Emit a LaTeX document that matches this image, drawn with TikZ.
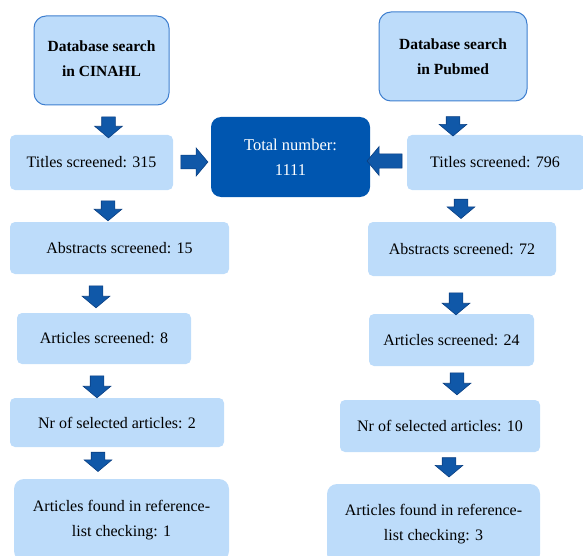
\documentclass[tikz,border=0pt]{standalone}
\usepackage{fontspec}
\setmainfont{Liberation Serif}
\usetikzlibrary{shapes.arrows}
\definecolor{lightbox}{HTML}{BDDCFA}
\definecolor{boxedge}{HTML}{3F7FCF}
\definecolor{darkbox}{HTML}{0056B0}
\definecolor{arrowfill}{HTML}{1058A8}
\definecolor{arrowedge}{HTML}{0A3F82}
\tikzset{
  stagebox/.style={fill=lightbox, rounded corners=5pt, align=center, inner sep=0pt,
    font=\fontsize{16}{25}\selectfont},
  dbbox/.style={stagebox, draw=boxedge, line width=1pt, rounded corners=12pt,
    font=\fontsize{15.5}{25}\selectfont\bfseries},
  totbox/.style={fill=darkbox, rounded corners=10pt, align=center, inner sep=0pt,
    text=white, font=\fontsize{16.5}{25}\selectfont},
  blockarrow/.style={single arrow, fill=arrowfill, draw=arrowedge, line width=0.6pt,
    inner sep=6.5pt, minimum width=27pt, single arrow head extend=7pt,
    single arrow tip angle=100},
  downarrow/.style={blockarrow, shape border rotate=270},
}
\begin{document}
\begin{tikzpicture}[x=1pt,y=-1pt]
\useasboundingbox (0,0) rectangle (583,556);
% boxes
\node[dbbox, minimum width=135pt, minimum height=89pt] (cin) at (101.5,60.5) {Database search\\in CINAHL\vphantom{g}};
\node[dbbox, minimum width=148pt, minimum height=89pt] (pub) at (453,56.5) {Database search\\in Pubmed};
\node[stagebox, minimum width=163pt, minimum height=55pt] (t315) at (91.5,162.5) {Titles screened: 315};
\node[totbox, minimum width=159pt, minimum height=80pt] (tot) at (290.5,157) {Total number:\\1111};
\node[stagebox, minimum width=178pt, minimum height=55pt] (t796) at (496,162.5) {};
\node (t796txt) at (495,162.5) [font=\fontsize{16}{25}\selectfont, inner sep=0pt] {Titles screened: 796};
\node[stagebox, minimum width=219pt, minimum height=52pt] (a15) at (119.5,248) {Abstracts screened: 15};
\node[stagebox, minimum width=188pt, minimum height=54pt] (a72) at (462,249) {Abstracts screened: 72};
\node[stagebox, minimum width=174pt, minimum height=51pt] (s8) at (104,338.5) {Articles screened: 8};
\node[stagebox, minimum width=165pt, minimum height=52pt] (s24) at (451.5,340) {Articles screened: 24};
\node[stagebox, minimum width=214pt, minimum height=49pt] (n2) at (117,422.5) {Nr of selected articles: 2};
\node[stagebox, minimum width=200pt, minimum height=52pt] (n10) at (440,426) {Nr of selected articles: 10};
\node[stagebox, minimum width=215pt, minimum height=82pt, rounded corners=10pt] (f1) at (121.5,520) {Articles found in reference-\\list checking: 1};
\node[stagebox, minimum width=213pt, minimum height=80pt, rounded corners=10pt] (f3) at (433.5,524) {Articles found in reference-\\list checking: 3};
% arrows
\node[downarrow, minimum height=21pt] (d1) at (108.5,124.5) {};
\node[downarrow, minimum height=18pt] (d2) at (453,123.5) {};
\node[blockarrow, minimum height=27pt, minimum width=28pt] (r1) at (191.5,162) {};
\node[blockarrow, shape border rotate=180, minimum height=35pt, minimum width=29pt] (l1) at (387.5,161) {};
\node[downarrow, minimum height=20pt] (d3) at (108,208) {};
\node[downarrow, minimum height=18pt] (d4) at (461,206) {};
\node[downarrow, minimum height=22pt] (d5) at (96,294) {};
\node[downarrow, minimum height=22pt] (d6) at (456,301) {};
\node[downarrow, minimum height=22pt] (d7) at (97,384) {};
\node[downarrow, minimum height=22pt] (d8) at (457,381) {};
\node[downarrow, minimum height=18pt] (d9) at (98,459) {};
\node[downarrow, minimum height=19pt] (d10) at (449,464.5) {};
\end{tikzpicture}
\end{document}
